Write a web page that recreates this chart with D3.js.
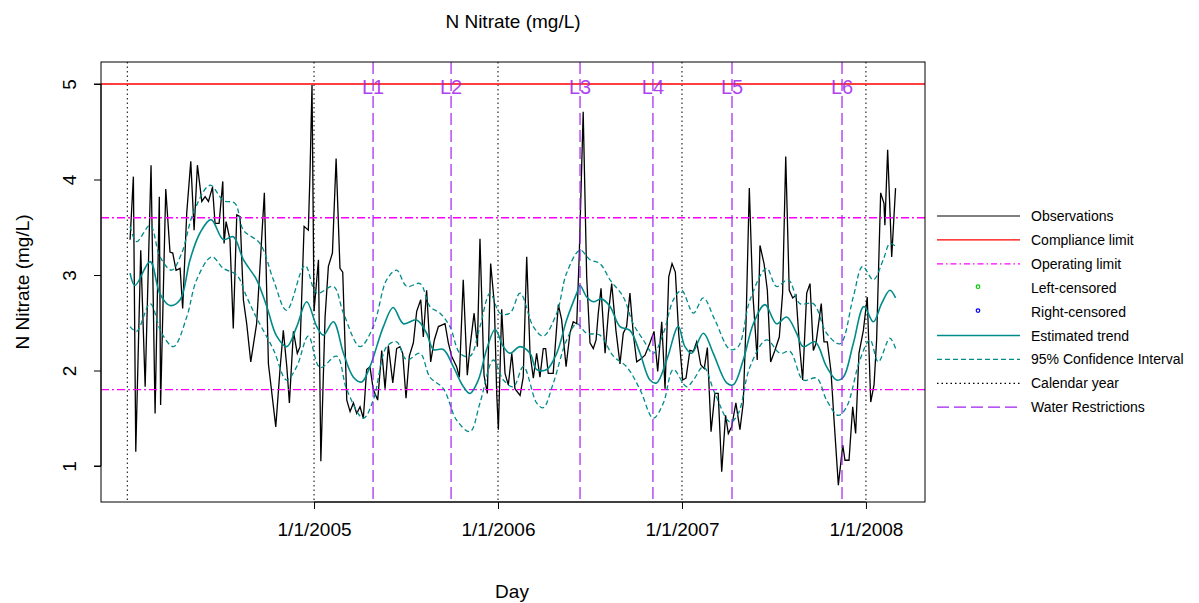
<!DOCTYPE html>
<html><head><meta charset="utf-8">
<script src="https://cdn.jsdelivr.net/npm/d3@7"></script>
<style>body{margin:0;background:#fff}text{font-family:"Liberation Sans",Arial,sans-serif}</style>
</head><body><svg id="c" width="1199" height="603"></svg>
<script>
// decimal year, value
const obsYears=[2004.000,2004.018,2004.031,2004.058,2004.082,2004.114,2004.136,2004.159,2004.166,2004.194,2004.217,2004.232,2004.250,2004.272,2004.286,2004.308,2004.330,2004.348,2004.366,2004.390,2004.408,2004.426,2004.448,2004.462,2004.484,2004.504,2004.511,2004.522,2004.543,2004.561,2004.580,2004.598,2004.616,2004.634,2004.656,2004.688,2004.730,2004.752,2004.792,2004.815,2004.833,2004.852,2004.866,2004.888,2004.909,2004.924,2004.946,2004.969,2004.978,2004.989,2005.000,2005.024,2005.037,2005.060,2005.078,2005.100,2005.120,2005.141,2005.156,2005.178,2005.196,2005.214,2005.232,2005.250,2005.268,2005.286,2005.304,2005.322,2005.346,2005.368,2005.386,2005.404,2005.428,2005.449,2005.467,
2005.482,2005.500,2005.518,2005.540,2005.558,2005.580,2005.594,2005.612,2005.634,2005.654,2005.676,2005.712,2005.730,2005.748,2005.775,2005.790,2005.811,2005.833,2005.848,2005.870,2005.888,2005.902,2005.924,2005.942,2005.960,2005.980,2005.993,2006.002,2006.020,2006.038,2006.056,2006.075,2006.092,2006.120,2006.137,2006.156,2006.174,2006.192,2006.210,2006.228,2006.246,2006.259,2006.273,2006.300,2006.328,2006.346,2006.370,2006.391,2006.409,2006.428,2006.442,2006.463,2006.482,2006.500,2006.518,2006.533,2006.545,2006.560,2006.582,2006.600,2006.618,2006.641,2006.663,2006.681,2006.699,2006.717,2006.735,2006.754,2006.776,2006.799,2006.826,2006.848,2006.868,2006.890,2006.908,2006.928,2006.946,2006.964,2006.982,2007.004,2007.022,2007.043,
2007.062,2007.080,2007.102,2007.121,2007.138,2007.158,2007.179,2007.197,2007.216,2007.237,2007.252,2007.270,2007.293,2007.315,2007.333,2007.348,2007.366,2007.384,2007.409,2007.424,2007.446,2007.464,2007.482,2007.505,2007.529,2007.547,2007.564,2007.583,2007.602,2007.620,2007.638,2007.656,2007.678,2007.696,2007.714,2007.728,2007.757,2007.772,2007.790,2007.810,2007.826,2007.850,2007.874,2007.886,2007.908,2007.928,2007.944,2007.962,2007.986,2008.007,2008.026,2008.044,2008.058,2008.080,2008.098,2008.103,2008.118,2008.140,2008.161];
const obsValues=[3.37,4.03,1.15,3.26,1.83,4.15,1.55,3.82,1.64,3.90,3.24,3.23,3.05,3.07,2.65,3.65,4.19,3.47,4.15,3.77,3.82,3.77,3.92,3.54,3.54,3.98,3.33,3.56,3.37,2.44,3.63,3.61,2.74,2.49,2.09,2.49,3.86,2.07,1.41,2.01,2.42,2.04,1.66,2.41,2.18,2.25,3.51,3.47,4.06,4.99,2.62,3.16,1.05,2.56,3.09,3.23,4.22,3.07,3.03,1.69,1.57,1.66,1.55,1.62,1.50,2.01,2.04,1.80,1.69,2.21,1.81,2.26,1.87,2.23,2.25,
2.18,1.71,2.15,2.29,2.62,2.74,2.35,2.84,2.09,2.32,2.46,2.49,2.29,2.15,2.04,1.93,2.95,1.95,2.25,2.60,2.25,3.38,1.95,1.76,3.12,2.70,1.76,1.38,2.64,1.97,1.85,2.18,1.81,1.74,1.93,3.19,2.18,1.92,2.18,1.93,2.23,2.23,1.97,1.97,2.69,2.53,2.04,2.39,2.51,2.49,3.23,4.71,2.98,2.29,2.23,2.32,2.60,2.86,2.18,2.60,2.91,2.42,2.07,2.39,2.46,2.81,2.39,2.09,2.12,2.16,2.29,2.41,1.99,2.51,1.81,2.98,3.12,3.03,2.39,1.90,1.92,2.21,
2.20,2.30,2.06,2.02,2.24,1.36,1.76,1.76,0.94,1.53,1.34,1.41,1.66,1.38,1.66,2.49,3.91,2.84,2.11,3.31,3.12,2.84,2.09,2.21,2.35,2.81,4.24,2.84,2.76,2.79,2.28,1.90,2.81,2.91,2.21,2.28,2.70,2.30,2.30,1.99,1.50,0.80,1.22,1.06,1.06,1.62,1.34,2.18,2.42,2.77,1.67,1.85,2.32,3.86,3.75,3.52,4.31,3.19,3.91];
const trendYears=[2004.000,2004.027,2004.109,2004.163,2004.217,2004.272,2004.326,2004.380,2004.440,2004.507,2004.561,2004.616,2004.688,2004.743,2004.797,2004.852,2004.906,2004.960,2005.015,2005.051,2005.105,2005.160,2005.214,2005.259,2005.304,2005.377,2005.430,2005.486,2005.558,2005.612,2005.649,2005.703,2005.757,2005.812,2005.848,2005.893,2005.938,2005.984,2006.029,2006.065,2006.120,2006.174,2006.210,2006.265,2006.319,2006.373,2006.428,2006.446,2006.482,2006.518,2006.563,2006.609,2006.663,2006.717,2006.772,2006.826,2006.862,2006.917,2006.980,2007.016,2007.053,2007.116,2007.170,2007.243,2007.279,2007.333,2007.388,2007.451,2007.514,2007.569,2007.623,2007.659,2007.723,2007.786,2007.841,2007.877,2007.931,2007.989,2008.040,2008.085,2008.130,2008.161];
const trendValues=[3.02,2.89,3.14,2.80,2.68,2.74,3.16,3.44,3.58,3.37,3.40,3.16,2.95,2.67,2.36,2.25,2.46,2.72,2.46,2.37,2.51,2.18,1.93,1.88,2.04,2.46,2.66,2.49,2.53,2.39,2.22,2.22,2.04,1.83,1.76,1.90,2.22,2.43,2.25,2.18,2.25,2.18,2.01,2.01,2.18,2.53,2.81,2.89,2.77,2.72,2.75,2.67,2.46,2.42,2.18,1.90,1.87,2.11,2.46,2.25,2.18,2.39,2.18,1.87,1.85,2.11,2.49,2.69,2.49,2.56,2.39,2.25,2.30,2.04,1.90,1.93,2.28,2.67,2.51,2.70,2.84,2.76];
const upperYears=[2004.000,2004.036,2004.109,2004.163,2004.226,2004.281,2004.344,2004.435,2004.507,2004.570,2004.616,2004.706,2004.779,2004.851,2004.951,2005.015,2005.105,2005.160,2005.250,2005.322,2005.395,2005.449,2005.504,2005.576,2005.630,2005.685,2005.739,2005.793,2005.848,2005.902,2005.957,2006.011,2006.065,2006.120,2006.192,2006.246,2006.319,2006.373,2006.446,2006.500,2006.554,2006.609,2006.681,2006.735,2006.790,2006.844,2006.899,2006.953,2006.998,2007.062,2007.116,2007.179,2007.261,2007.306,2007.370,2007.460,2007.514,2007.578,2007.641,2007.714,2007.786,2007.859,2007.931,2007.982,2008.040,2008.094,2008.130,2008.161];
const upperValues=[3.51,3.35,3.52,3.19,3.05,3.23,3.65,3.94,3.78,3.75,3.47,3.33,2.95,2.63,3.10,2.81,2.88,2.60,2.25,2.46,2.95,3.05,2.88,2.91,2.67,2.60,2.46,2.18,2.15,2.46,2.81,2.60,2.60,2.81,2.46,2.36,2.60,3.02,3.26,3.16,3.12,2.95,2.77,2.49,2.32,2.18,2.39,2.74,2.84,2.60,2.76,2.53,2.22,2.25,2.74,3.07,2.88,2.95,2.70,2.70,2.39,2.28,2.77,3.09,2.95,3.16,3.33,3.30];
const lowerYears=[2004.000,2004.036,2004.109,2004.172,2004.236,2004.308,2004.362,2004.444,2004.507,2004.580,2004.634,2004.688,2004.779,2004.851,2004.906,2004.969,2005.033,2005.123,2005.178,2005.268,2005.322,2005.395,2005.449,2005.504,2005.576,2005.630,2005.703,2005.775,2005.848,2005.902,2005.975,2006.029,2006.083,2006.138,2006.210,2006.246,2006.301,2006.373,2006.428,2006.482,2006.554,2006.627,2006.699,2006.772,2006.844,2006.899,2006.953,2007.025,2007.062,2007.116,2007.179,2007.261,2007.306,2007.370,2007.460,2007.533,2007.587,2007.659,2007.732,2007.786,2007.850,2007.895,2007.967,2008.022,2008.067,2008.130,2008.161];
const lowerValues=[2.46,2.41,2.70,2.39,2.25,2.56,2.95,3.19,3.07,3.00,2.77,2.55,2.22,1.90,2.04,2.36,2.03,2.15,1.80,1.50,1.69,2.25,2.30,2.11,2.18,1.93,1.81,1.48,1.36,1.66,2.11,1.90,1.83,2.04,1.66,1.61,1.87,2.32,2.49,2.39,2.37,2.15,2.04,1.80,1.50,1.66,2.01,1.83,1.90,2.04,1.76,1.46,1.55,2.04,2.32,2.18,2.20,1.90,1.92,1.69,1.53,1.62,2.11,2.32,2.09,2.34,2.23];
const calendarYears=[2003.985,2005,2006,2007,2008];
const restrictionYears=[2005.321,2005.745,2006.446,2006.842,2007.272,2007.870];
const restrictionLabels=["L1","L2","L3","L4","L5","L6"];
const xTickYears=[2005,2006,2007,2008];
const xTickLabels=["1/1/2005","1/1/2006","1/1/2007","1/1/2008"];
const yTicks=[1,2,3,4,5];
const complianceLimit=5, operatingLimits=[3.6,1.8];

const svg=d3.select("#c");
const L=101,R=925,T=62,B=502;
const x=d3.scaleLinear().domain([2003.842,2008.321]).range([L,R]);
const y=d3.scaleLinear().domain([1,5]).range([466,84]);
const teal="#008B8B", purple="#A020F0", mag="#FF00FF";
const g=svg.append("g");
const line=(xs,vs,c)=>d3.line().x((d,i)=>x(xs[i])).y((d,i)=>y(vs[i])).curve(c||d3.curveLinear)(vs);

calendarYears.forEach(v=>g.append("line").attr("x1",x(v)).attr("x2",x(v)).attr("y1",T).attr("y2",B).attr("stroke","#000").attr("stroke-dasharray","1.5,3"));
g.append("path").attr("d",line(obsYears,obsValues)).attr("fill","none").attr("stroke","#000").attr("stroke-width",1.3);
g.append("line").attr("x1",L).attr("x2",R).attr("y1",y(complianceLimit)).attr("y2",y(complianceLimit)).attr("stroke","#FF0000").attr("stroke-width",1.3);
operatingLimits.forEach(v=>g.append("line").attr("x1",L).attr("x2",R).attr("y1",y(v)).attr("y2",y(v)).attr("stroke",mag).attr("stroke-width",1.4).attr("stroke-dasharray","8,3,2,3"));
g.append("path").attr("d",line(trendYears,trendValues,d3.curveCatmullRom)).attr("fill","none").attr("stroke",teal).attr("stroke-width",1.6);
[[upperYears,upperValues],[lowerYears,lowerValues]].forEach(([a,b])=>g.append("path").attr("d",line(a,b,d3.curveCatmullRom)).attr("fill","none").attr("stroke",teal).attr("stroke-width",1.3).attr("stroke-dasharray","5,3"));
restrictionYears.forEach((v,i)=>{
 g.append("line").attr("x1",x(v)).attr("x2",x(v)).attr("y1",T).attr("y2",B).attr("stroke",purple).attr("stroke-opacity",0.8).attr("stroke-width",1.5).attr("stroke-dasharray","12,5");
 g.append("text").attr("x",x(v)).attr("y",94).attr("text-anchor","middle").attr("font-size",20).attr("fill",purple).attr("fill-opacity",0.85).text(restrictionLabels[i]);
});
svg.append("rect").attr("x",L).attr("y",T).attr("width",R-L).attr("height",B-T).attr("fill","none").attr("stroke","#000");

const ya=svg.append("g").attr("transform",`translate(${L},0)`).call(d3.axisLeft(y).tickValues(yTicks).tickSize(7).tickFormat(d3.format("d")));
ya.select(".domain").attr("d",`M-7,${y(1)}H0M0,${y(1)}V${y(5)}M-7,${y(5)}H0`).attr("stroke","#000");
ya.selectAll("text").attr("font-size",19).attr("x",0).attr("y",0).attr("dy","0.35em").attr("transform","translate(-32,0) rotate(-90)").attr("text-anchor","middle").attr("fill","#000");
const xa=svg.append("g").attr("transform",`translate(0,${B})`).call(d3.axisBottom(x).tickValues(xTickYears).tickSize(7).tickFormat((d,i)=>xTickLabels[i]));
xa.select(".domain").remove();
xa.append("line").attr("x1",x(2005)).attr("x2",x(2008)).attr("stroke","#000");
xa.selectAll("text").attr("font-size",19).attr("y",34).attr("dy",0).attr("fill","#000");

svg.append("text").attr("x",513).attr("y",28).attr("text-anchor","middle").attr("font-size",19).text("N Nitrate (mg/L)");
svg.append("text").attr("x",512).attr("y",598).attr("text-anchor","middle").attr("font-size",19).text("Day");
svg.append("text").attr("transform","translate(29,282) rotate(-90)").attr("text-anchor","middle").attr("font-size",19).text("N Nitrate (mg/L)");

const leg=[["Observations","line","#000",null],["Compliance limit","line","#FF0000",null],["Operating limit","line",mag,"6,3,1.5,3"],["Left-censored","pt","#00CC00"],["Right-censored","pt","#0000FF"],["Estimated trend","line",teal,null,1.6],["95% Confidence Interval","line",teal,"5,3"],["Calendar year","line","#000","1.5,3"],["Water Restrictions","line",purple,"12,5"]];
leg.forEach((e,i)=>{
 const yy=216+i*23.9;
 if(e[1]==="line") svg.append("line").attr("x1",937).attr("x2",1020).attr("y1",yy).attr("y2",yy).attr("stroke",e[2]).attr("stroke-width",e[4]||1.2).attr("stroke-dasharray",e[3]);
 else svg.append("circle").attr("cx",978).attr("cy",yy-1).attr("r",1.8).attr("fill","none").attr("stroke",e[2]).attr("stroke-width",1.2);
 svg.append("text").attr("x",1031).attr("y",yy+5).attr("font-size",14).text(e[0]);
});
</script></body></html>
